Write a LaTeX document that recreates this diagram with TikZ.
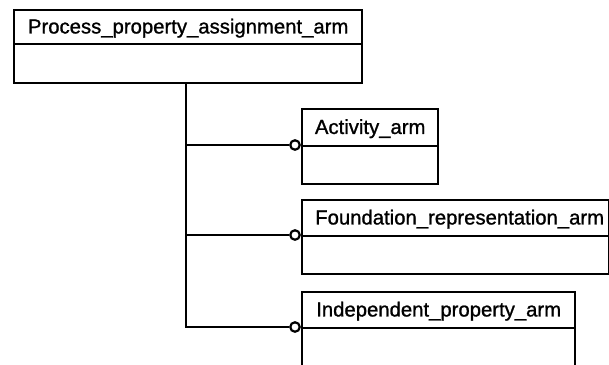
\documentclass[tikz,border=0pt]{standalone}
\usepackage{fontspec}
\setmainfont{Liberation Sans}
\newfontfamily\ttlfont{Liberation Sans}[FakeBold=1.1]
\begin{document}
\begin{tikzpicture}[x=1pt,y=-1pt,
  box/.style={draw, line width=2.4pt, anchor=north west, inner sep=0pt},
  ttl/.style={font=\ttlfont\fontsize{20.3}{24}\selectfont},
  conn/.style={line width=2.4pt},
  ring/.style={draw, circle, line width=2.2pt, fill=white, inner sep=0pt, minimum size=9.5pt}]
\useasboundingbox (0,0) rectangle (609,364);
% top class
\node[box, minimum width=348pt, minimum height=34pt] (ph) at (13,9) {};
\node[box, minimum width=348pt, minimum height=39pt] (pb) at (13,43) {};
\node[ttl] at ([yshift=-1pt]ph.center) {Process\_property\_assignment\_arm};
% Activity
\node[box, minimum width=136pt, minimum height=37pt] (ah) at (301,108) {};
\node[box, minimum width=136pt, minimum height=38pt] (ab) at (301,145) {};
\node[ttl] at ([yshift=-1pt]ah.center) {Activity\_arm};
% Foundation
\node[box, minimum width=307pt, minimum height=36pt] (fh) at (301,199) {};
\node[box, minimum width=307pt, minimum height=38pt] (fb) at (301,235) {};
\node[ttl] at ([xshift=4pt,yshift=-1pt]fh.center) {Foundation\_representation\_arm};
% Independent
\node[box, minimum width=273pt, minimum height=36pt] (ih) at (301,291) {};
\node[box, minimum width=273pt, minimum height=40pt] (ib) at (301,327) {};
\node[ttl] at ([yshift=-1pt]ih.center) {Independent\_property\_arm};
% connectors
\coordinate (trunk) at (186,82);
\node[ring] (c1) at (295,145) {};
\node[ring] (c2) at (295,235) {};
\node[ring] (c3) at (295,327) {};
\draw[conn] (trunk) |- (c3.west);
\draw[conn] (trunk |- c1) -- (c1.west);
\draw[conn] (trunk |- c2) -- (c2.west);
\end{tikzpicture}
\end{document}
